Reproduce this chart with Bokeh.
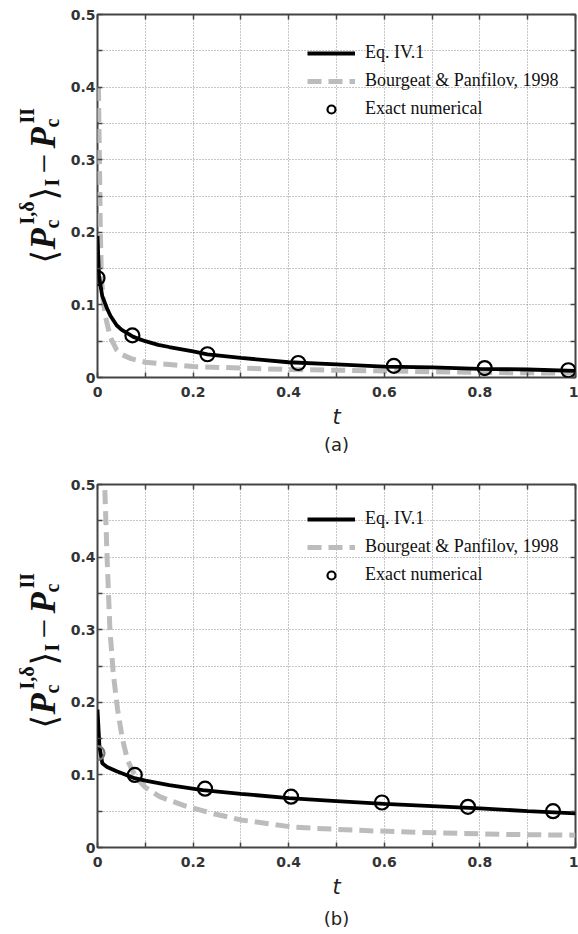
import math
from bokeh.plotting import figure
from bokeh.models import (LinearAxis, FixedTicker, CustomJSTickFormatter, Label,
                          Legend, LegendItem, Range1d, Title)
from bokeh.layouts import column, row
from bokeh.embed import file_html
from bokeh.resources import INLINE

# ---------------- data ----------------
# panel (a)
a_eq_t = [0.0, 0.003, 0.01, 0.02, 0.027, 0.04, 0.05, 0.075, 0.1, 0.127, 0.15, 0.2, 0.23,
          0.3, 0.4, 0.5, 0.6, 0.7, 0.8, 0.9, 1.0]
a_eq_v = [0.195, 0.14, 0.112, 0.095, 0.085, 0.072, 0.066, 0.056, 0.05, 0.045, 0.042, 0.036,
          0.032, 0.027, 0.021, 0.018, 0.015, 0.014, 0.012, 0.011, 0.009]
a_bp_t = [0.002, 0.004, 0.006, 0.008, 0.012, 0.017, 0.027, 0.04, 0.05, 0.07, 0.1, 0.15, 0.2,
          0.3, 0.4, 0.5, 0.6, 0.7, 0.8, 0.9, 1.0]
a_bp_v = [0.40, 0.30, 0.20, 0.14, 0.105, 0.083, 0.055, 0.038, 0.032, 0.026, 0.021, 0.018,
          0.015, 0.013, 0.011, 0.010, 0.009, 0.008, 0.007, 0.0065, 0.006]
a_ex_t = [0.0, 0.073, 0.23, 0.42, 0.62, 0.81, 0.985]
a_ex_v = [0.137, 0.058, 0.032, 0.020, 0.016, 0.013, 0.010]

# panel (b)
b_eq_t = [0.0, 0.004, 0.01, 0.02, 0.04, 0.075, 0.1, 0.15, 0.22, 0.3, 0.4, 0.5, 0.6, 0.7,
          0.8, 0.9, 1.0]
b_eq_v = [0.19, 0.14, 0.116, 0.111, 0.105, 0.096, 0.092, 0.086, 0.079, 0.074, 0.068, 0.064,
          0.060, 0.057, 0.054, 0.050, 0.047]
b_bp_t = [0.013, 0.015, 0.02, 0.026, 0.033, 0.042, 0.052, 0.063, 0.08, 0.1, 0.13, 0.18,
          0.24, 0.3, 0.41, 0.5, 0.57, 0.72, 0.85, 1.0]
b_bp_v = [0.55, 0.50, 0.40, 0.30, 0.24, 0.19, 0.15, 0.12, 0.097, 0.083, 0.07, 0.058, 0.047,
          0.038, 0.028, 0.025, 0.023, 0.020, 0.018, 0.017]
b_ex_t = [0.0, 0.078, 0.225, 0.405, 0.595, 0.775, 0.953]
b_ex_v = [0.13, 0.10, 0.081, 0.070, 0.062, 0.056, 0.050]

legend_labels = ["Eq. IV.1", "Bourgeat & Panfilov, 1998", "Exact numerical"]
x_major = [0, 0.2, 0.4, 0.6, 0.8, 1.0]
x_minor = [0.1, 0.3, 0.5, 0.7, 0.9]
y_major = [0, 0.1, 0.2, 0.3, 0.4, 0.5]
y_minor = [0.05, 0.15, 0.25, 0.35, 0.45]

TICK_FONT = "DejaVu Sans"
SERIF = "Liberation Serif"
LAB_W = 67
MAIN_W = 511
FRAME_H = 363


def label_fig(height, btop, bbot, start):
    # its frame is aligned with the neighbouring panel's frame (same height)
    q = figure(width=LAB_W, height=height, x_range=Range1d(0, LAB_W),
               y_range=Range1d(0, FRAME_H), output_backend="svg", toolbar_location=None,
               min_border_left=0, min_border_right=0, min_border_top=btop,
               min_border_bottom=bbot, x_axis_type=None, y_axis_type=None)
    q.outline_line_color = None
    q.grid.visible = False
    base = 43
    F, S = "35px", "20px"
    pieces = [
        ("\u27e8", F, "normal", "DejaVu Sans", 0, 0),
        ("P", F, "bold italic", SERIF, 14, 0),
        ("c", S, "bold", SERIF, 35, 8),
        ("I,\u03b4", S, "bold", SERIF, 39, -17),
        ("\u27e9", F, "normal", "DejaVu Sans", 63, 0),
        ("I", S, "bold", SERIF, 77, 8),
        ("\u2212", F, "normal", SERIF, 90, 0),
        ("P", F, "bold italic", SERIF, 115, 0),
        ("c", S, "bold", SERIF, 136, 8),
        ("II", S, "bold", SERIF, 140, -17),
    ]
    for txt, size, style, font, pos, perp in pieces:
        q.add_layout(Label(x=base + perp, y=start + pos, text=txt, angle=math.pi / 2,
                           text_align="left", text_baseline="alphabetic", text_font=font,
                           text_font_size=size, text_font_style=style, text_color="#111"))
    return q


def panel(height, btop, bbot, eq_t, eq_v, bp_t, bp_v, ex_t, ex_v, first_color, tag,
          leg_y, tag_standoff):
    p = figure(width=MAIN_W, height=height, x_range=Range1d(0, 1), y_range=Range1d(0, 0.5),
               output_backend="svg", toolbar_location=None,
               min_border_left=30, min_border_right=3, min_border_top=btop,
               min_border_bottom=bbot)
    p.background_fill_color = "white"
    p.border_fill_color = "white"
    p.outline_line_color = "#444444"
    p.outline_line_width = 2

    fmt = "return tick.toFixed(1).replace(/\\.0$/, '');"
    xb = p.below[0]
    yl = p.left[0]
    xb.ticker = FixedTicker(ticks=x_major, minor_ticks=x_minor)
    yl.ticker = FixedTicker(ticks=y_major, minor_ticks=y_minor)
    xb.formatter = CustomJSTickFormatter(code=fmt)
    yl.formatter = CustomJSTickFormatter(code=fmt)
    xa = LinearAxis(ticker=FixedTicker(ticks=x_major, minor_ticks=x_minor),
                    formatter=CustomJSTickFormatter(code="return '';"))
    yr = LinearAxis(ticker=FixedTicker(ticks=y_major, minor_ticks=y_minor),
                    formatter=CustomJSTickFormatter(code="return '';"))
    p.add_layout(xa, "above")
    p.add_layout(yr, "right")
    for ax in (xb, yl, xa, yr):
        ax.axis_line_color = None
        ax.major_tick_in = 5
        ax.major_tick_out = 0
        ax.minor_tick_in = 5
        ax.minor_tick_out = 0
        ax.major_tick_line_color = "#444444"
        ax.minor_tick_line_color = "#444444"
        ax.major_tick_line_width = 1.5
        ax.minor_tick_line_width = 1.5
        ax.major_label_text_font = TICK_FONT
        ax.major_label_text_font_style = "bold"
        ax.major_label_text_font_size = "14px"
        ax.major_label_text_color = "#333333"
    xa.major_label_standoff = 0
    yr.major_label_standoff = 0
    xb.major_label_standoff = 9
    yl.major_label_standoff = 2
    xb.axis_label = "t"
    xb.axis_label_text_font = TICK_FONT
    xb.axis_label_text_font_style = "italic"
    xb.axis_label_text_font_size = "21px"
    xb.axis_label_text_color = "#222222"
    xb.axis_label_standoff = 5

    for g in (p.xgrid, p.ygrid):
        g.grid_line_color = "#8c8c8c"
        g.grid_line_dash = "1 2"
        g.grid_line_width = 1
        g.minor_grid_line_color = "#8c8c8c"
        g.minor_grid_line_dash = "1 2"
        g.minor_grid_line_width = 1

    r_bp = p.line(bp_t, bp_v, line_color="#bcbcbc", line_width=5, line_dash="14 7")
    r_eq = p.line(eq_t, eq_v, line_color="black", line_width=3.8)
    r_ex = p.scatter(ex_t[1:], ex_v[1:], marker="circle", size=14, fill_color=None,
                     line_color="black", line_width=2.2)
    p.scatter(ex_t[:1], ex_v[:1], marker="circle", size=14, fill_color=None,
              line_color=first_color, line_width=2.2)

    leg = Legend(items=[LegendItem(label=legend_labels[0], renderers=[r_eq]),
                        LegendItem(label=legend_labels[1], renderers=[r_bp]),
                        LegendItem(label=legend_labels[2], renderers=[r_ex])],
                 location=(210, leg_y))
    leg.border_line_color = None
    leg.background_fill_alpha = 0
    leg.padding = 0
    leg.margin = 0
    leg.spacing = 7
    leg.glyph_width = 48
    leg.glyph_height = 20
    leg.label_height = 20
    leg.label_standoff = 10
    leg.label_text_font = SERIF
    leg.label_text_font_size = "18px"
    leg.label_text_color = "#111111"
    p.add_layout(leg)

    p.add_layout(Title(text=tag, align="center", text_font=TICK_FONT,
                       text_font_style="normal", text_font_size="18px",
                       text_color="#222222", standoff=tag_standoff), "below")
    return p


top = row(label_fig(470, 14, 93, 114),
          panel(470, 14, 93, a_eq_t, a_eq_v, a_bp_t, a_bp_v, a_ex_t, a_ex_v, "black", "(a)",
                258, 0), spacing=0)
bot = row(label_fig(464, 14, 87, 119),
          panel(464, 14, 87, b_eq_t, b_eq_v, b_bp_t, b_bp_v, b_ex_t, b_ex_v, "#777777", "(b)",
                262, 8), spacing=0)

layout = column(top, bot, spacing=0)
open("out.html", "w").write(file_html(layout, INLINE))
